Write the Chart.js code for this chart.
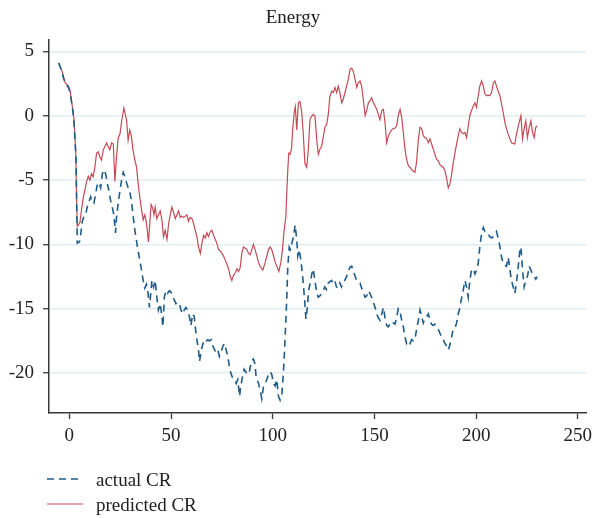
<!DOCTYPE html>
<html>
<head>
<meta charset="utf-8">
<script src="https://cdn.jsdelivr.net/npm/chart.js@4.4.1/dist/chart.umd.min.js"></script>
<style>
  html, body { margin: 0; padding: 0; background: #fff; }
  #wrap { position: relative; width: 595px; height: 518px; }
  #c { position: absolute; left: 0; top: 0; }
  #legend { position: absolute; left: 0; top: 462px; pointer-events: none; }
</style>
</head>
<body>
<div id="wrap">
  <canvas id="c" width="595" height="518"></canvas>
  <svg id="legend" width="300" height="56" xmlns="http://www.w3.org/2000/svg"></svg>
</div>
<script>
// Energy: actual vs predicted CR over time
const chartTitle = 'Energy';
const seriesNames = ['actual CR', 'predicted CR'];
const xTicks = [0, 50, 100, 150, 200, 250];
const yTicks = [-20, -15, -10, -5, 0, 5];

const tActual = [
  -5.2, -3.6, -2.8, -2.0, -0.4, 0.4, 1.7, 2.3, 3.3, 3.6, 3.9, 5.0, 5.6, 6.4, 7.2, 8.0, 8.8, 9.8,
  10.5, 11.3, 12.1, 12.9, 13.8, 14.6, 15.4, 16.2, 17.1, 17.9, 18.7, 19.5, 20.3, 21.1, 21.9, 22.7,
  23.2, 24.0, 24.9, 25.7, 26.5, 27.3, 28.1, 28.9, 29.7, 30.5, 31.3, 32.2, 33.0, 33.8, 34.6, 35.5,
  36.3, 37.1, 37.9, 38.7, 39.4, 40.6, 41.4, 42.2, 43.0, 43.8, 44.7, 45.5, 46.0, 46.7, 47.5, 48.3,
  49.2, 50.0, 50.8, 51.6, 52.4, 53.2, 54.1, 54.9, 55.7, 56.5, 57.3, 58.2, 59.0, 59.8, 60.6, 61.4,
  61.9, 62.7, 63.5, 64.0, 64.9, 65.7, 66.5, 67.3, 68.1, 68.9, 69.7, 70.6, 71.4, 72.2, 73.0, 73.8,
  74.6, 75.5, 76.3, 77.1, 77.9, 78.7, 79.6, 80.4, 81.2, 82.0, 82.8, 83.7, 84.3, 85.1, 85.9, 86.7,
  87.6, 88.4, 89.2, 89.9, 90.5, 91.3, 91.8, 93.0, 93.8, 94.6, 95.5, 96.3, 97.1, 97.9, 98.7, 99.5,
  100.4, 101.2, 102.0, 102.8, 103.6, 104.5, 105.3, 105.8, 106.4, 106.9, 107.4, 108.1, 108.7, 109.4,
  110.2, 111.0, 111.8, 112.3, 113.0, 113.8, 114.3, 115.0, 115.8, 116.3, 117.0, 117.6, 118.4, 119.2,
  119.9, 120.7, 121.5, 122.3, 123.2, 124.0, 124.8, 125.6, 126.4, 127.3, 128.1, 128.9, 129.7, 130.5,
  131.3, 132.2, 133.0, 133.8, 134.6, 135.4, 136.3, 137.1, 137.9, 138.8, 139.6, 140.5, 141.3, 142.1,
  142.9, 143.7, 144.5, 145.4, 146.2, 147.0, 147.8, 148.6, 149.5, 150.3, 151.1, 151.9, 152.7, 153.6,
  154.4, 155.2, 156.0, 156.8, 157.6, 158.5, 159.3, 160.1, 160.9, 161.7, 162.6, 163.4, 164.2, 165.0,
  165.8, 166.7, 167.5, 168.3, 169.1, 169.9, 170.7, 171.6, 172.4, 173.2, 174.0, 174.8, 175.7, 176.5,
  177.3, 178.1, 178.9, 179.7, 180.6, 181.4, 182.2, 183.0, 183.8, 184.7, 185.5, 186.3, 187.1, 187.9,
  188.7, 189.6, 190.4, 191.2, 192.0, 192.8, 193.6, 194.5, 195.3, 196.1, 196.9, 197.7, 198.6, 199.4,
  200.2, 201.0, 201.8, 202.7, 203.5, 204.3, 205.1, 205.9, 206.7, 207.6, 208.4, 209.2, 210.0, 210.8,
  211.7, 212.5, 213.3, 214.1, 214.9, 215.8, 216.6, 217.4, 218.2, 219.0, 219.8, 220.7, 221.5, 222.0,
  222.8, 223.6, 224.4, 225.2, 226.1, 226.9, 227.7, 228.5, 229.3, 230.0
];
const actualCR = [
  4.1, 3.4, 2.9, 2.5, 2.2, 1.8, 0.4, -0.55, -3.4, -6.8, -9.9, -9.8, -9.2, -8.2, -7.8, -7.7, -7.1, -6.6,
  -6.3, -6.7, -6.8, -6.1, -5.3, -5.2, -5.6, -4.55, -4.2, -4.55, -5.3, -5.85, -6.6, -7.1, -7.7, -9.1,
  -7.9, -6.8, -5.8, -5.0, -4.4, -4.75, -5.2, -5.6, -5.85, -6.6, -7.7, -8.9, -9.7, -10.5, -11.2, -12.0,
  -12.8, -13.4, -13.1, -13.8, -14.9, -12.8, -13.3, -12.8, -14.1, -15.1, -14.6, -15.6, -16.4, -14.1, -13.6, -13.8,
  -13.6, -13.7, -14.1, -14.3, -14.6, -14.5, -14.6, -15.1, -15.4, -15.1, -14.9, -15.1, -15.6, -16.3, -15.4, -15.6,
  -16.4, -17.4, -18.2, -19.1, -18.2, -17.7, -17.4, -17.5, -17.4, -17.5, -17.4, -17.9, -18.2, -18.4, -18.2, -18.7,
  -18.4, -17.9, -17.7, -18.2, -18.7, -19.5, -20.1, -20.4, -20.5, -20.8, -20.5, -21.8, -21.0, -20.3, -19.7, -19.9,
  -20.1, -20.0, -19.3, -19.0, -18.9, -19.3, -20.3, -20.8, -21.3, -22.0, -21.0, -20.8, -20.5, -20.1, -19.9, -20.1,
  -20.8, -21.0, -20.5, -21.8, -22.1, -21.6, -19.8, -18.2, -16.1, -14.1, -11.7, -10.2, -10.4, -9.9,
  -9.4, -8.5, -9.6, -10.9, -10.4, -11.2, -11.9, -13.0, -14.6, -15.8, -14.9, -13.6, -13.0, -12.3,
  -11.9, -12.8, -13.6, -14.1, -14.0, -13.8, -13.6, -13.3, -13.5, -13.0, -12.9, -12.8, -13.0, -12.8,
  -13.3, -13.4, -13.0, -13.3, -13.0, -12.8, -12.5, -12.1, -11.8, -11.7, -12.0, -12.5, -12.8, -12.9,
  -13.0, -13.4, -13.7, -14.1, -14.0, -13.6, -13.8, -14.1, -14.5, -14.9, -15.4, -15.7, -15.9, -15.4,
  -14.9, -15.7, -16.3, -16.4, -16.2, -16.3, -16.1, -16.2, -15.7, -15.0, -15.2, -15.9, -16.4, -17.2,
  -17.7, -17.5, -17.7, -17.4, -17.5, -17.4, -16.6, -15.9, -15.1, -15.6, -16.1, -15.7, -15.6, -15.4,
  -15.9, -16.2, -16.3, -16.2, -16.4, -16.6, -16.9, -17.2, -17.4, -17.7, -17.9, -18.2, -17.8, -17.2,
  -16.6, -16.5, -16.1, -15.4, -14.9, -14.2, -13.6, -12.8, -13.3, -14.1, -12.8, -12.0, -11.9, -12.3,
  -12.0, -11.5, -10.2, -9.1, -8.7, -9.0, -9.0, -9.2, -9.4, -9.5, -9.4, -9.2, -9.0, -9.5,
  -10.2, -11.0, -11.5, -11.6, -11.7, -11.0, -12.0, -12.8, -13.3, -13.8, -13.0, -11.7, -10.4, -10.2,
  -12.0, -13.3, -12.8, -12.5, -11.7, -12.0, -12.3, -12.5, -12.7, -12.5
];

const tPredicted = [
  -5.2, -3.6, -2.0, -0.4, 0.4, 1.7, 2.3, 3.1, 3.6, 3.9, 5.2, 6.0, 6.9, 7.7, 8.5, 9.3, 10.1, 10.9,
  11.7, 12.6, 13.4, 14.2, 15.0, 15.8, 16.7, 17.5, 18.3, 19.1, 19.9, 20.8, 21.6, 22.4, 23.2, 24.0,
  24.9, 25.7, 26.8, 28.1, 28.9, 29.7, 30.5, 31.3, 32.2, 33.0, 33.8, 34.6, 35.5, 36.3, 37.1, 37.9,
  38.9, 40.2, 41.0, 41.6, 42.2, 43.0, 43.8, 44.7, 45.5, 46.3, 47.1, 48.0, 48.8, 49.6, 50.4, 51.2,
  52.1, 52.9, 53.7, 54.5, 55.3, 56.2, 57.0, 57.8, 58.6, 59.4, 60.3, 61.1, 61.9, 62.7, 63.5, 64.4,
  65.2, 66.0, 66.8, 67.6, 68.4, 69.3, 70.1, 70.9, 71.7, 72.5, 73.4, 74.2, 75.0, 75.8, 76.6, 77.4,
  78.3, 79.1, 79.9, 80.7, 81.6, 82.4, 83.2, 84.0, 84.8, 85.6, 86.5, 87.3, 88.1, 88.9, 89.7, 90.5,
  91.3, 92.2, 93.0, 93.8, 95.1, 96.3, 97.1, 97.9, 98.7, 99.5, 100.4, 101.2, 102.0, 103.0, 104.0,
  104.8, 105.6, 106.4, 106.9, 107.4, 107.9, 108.5, 109.2, 109.8, 110.5, 111.1, 111.8, 112.6, 113.4,
  114.2, 115.0, 115.8, 116.7, 117.5, 118.3, 119.1, 119.9, 120.8, 121.6, 122.4, 123.2, 124.0, 124.9,
  125.7, 126.5, 127.3, 128.1, 129.0, 129.8, 130.6, 131.4, 132.2, 133.0, 133.9, 134.7, 135.5, 136.3,
  137.1, 138.0, 138.8, 139.6, 140.5, 141.3, 142.1, 142.9, 143.7, 144.5, 145.4, 146.2, 147.0, 147.8,
  148.6, 149.5, 150.3, 151.1, 151.9, 152.7, 153.6, 154.4, 155.2, 156.0, 156.8, 157.6, 158.5, 159.3,
  160.1, 160.9, 161.7, 162.6, 163.4, 164.2, 165.0, 165.8, 166.7, 167.5, 168.3, 169.1, 169.9, 170.7,
  171.6, 172.4, 173.2, 174.0, 174.8, 175.7, 176.5, 177.3, 178.1, 178.9, 179.7, 180.6, 181.4, 182.2,
  183.0, 183.8, 184.7, 185.5, 186.3, 187.1, 187.9, 188.7, 189.6, 190.4, 191.2, 192.0, 192.8, 193.6,
  194.5, 195.3, 196.1, 196.9, 197.7, 198.6, 199.4, 200.2, 201.0, 201.8, 202.7, 203.5, 204.3, 205.1,
  205.9, 206.7, 207.6, 208.4, 209.2, 210.0, 210.8, 211.7, 212.5, 213.3, 214.1, 214.9, 215.8, 216.6,
  217.4, 218.2, 219.0, 219.8, 220.7, 221.5, 222.0, 222.8, 223.6, 224.4, 225.2, 226.1, 226.9, 227.7,
  228.5, 229.3, 230.0
];
const predictedCR = [
  4.1, 3.45, 2.55, 2.3, 1.9, 0.47, -0.3, -2.6, -6.8, -8.6, -8.3, -7.3, -6.3, -5.75, -5.1, -4.7, -5.0, -4.5,
  -4.75, -3.95, -2.9, -2.8, -3.2, -3.45, -2.65, -2.4, -2.1, -2.4, -2.65, -2.1, -2.2, -5.1, -3.2, -1.75,
  -1.4, -0.45, 0.6, -0.3, -1.9, -1.1, -1.6, -2.65, -3.45, -3.95, -5.25, -6.3, -7.3, -8.1, -7.7, -8.3,
  -9.8, -6.9, -7.2, -7.7, -7.1, -8.0, -7.7, -7.4, -8.1, -9.4, -8.9, -9.6, -8.4, -7.7, -7.1, -7.5,
  -8.0, -7.7, -7.4, -7.9, -7.8, -7.9, -7.8, -7.7, -8.2, -7.9, -8.0, -8.4, -8.9, -9.4, -10.2, -10.7,
  -9.9, -9.3, -9.5, -9.1, -9.4, -9.0, -8.9, -9.3, -9.6, -9.9, -10.4, -10.5, -10.7, -10.9, -11.2, -11.5,
  -11.9, -12.5, -12.8, -12.4, -12.2, -11.9, -12.1, -11.8, -10.7, -10.2, -10.3, -10.4, -10.7, -10.8, -10.4, -10.0,
  -10.4, -10.9, -11.4, -11.7, -12.0, -11.4, -10.9, -10.4, -10.2, -10.4, -10.9, -11.4, -11.7, -12.1, -11.4,
  -10.4, -8.9, -7.9, -6.0, -4.2, -2.9, -3.0, -2.6, -1.1, 0.2, 0.7, -1.1, 1.0, 1.1,
  0.35, -1.4, -3.7, -4.0, -2.6, -0.3, -0.05, 0.1, -0.05, -1.85, -3.0, -2.6, -2.4, -1.6,
  -0.85, -0.7, 0.1, 1.5, 1.9, 1.8, 2.2, 1.8, 2.3, 1.8, 1.0, 1.3, 1.8, 2.3,
  2.8, 3.6, 3.7, 3.45, 2.8, 2.2, 2.55, 2.7, 2.3, 1.3, 0.0, 0.4, 1.0, 1.15,
  1.4, 1.0, 0.75, 0.5, 0.1, -0.3, 0.4, 0.5, -0.55, -2.1, -1.6, -1.3, -1.1, -1.0,
  -0.95, -0.8, 0.0, 0.5, -0.15, -1.3, -2.6, -3.4, -3.9, -4.0, -4.2, -4.3, -4.4, -3.6,
  -1.8, -0.9, -1.0, -1.55, -1.7, -1.8, -2.1, -1.8, -2.2, -2.6, -3.0, -3.4, -3.5, -3.8,
  -3.9, -4.0, -4.3, -4.9, -5.6, -5.3, -4.6, -3.7, -2.85, -2.2, -1.55, -1.0, -1.3, -1.4,
  -1.3, -1.7, -0.8, 0.0, 0.4, 0.75, 1.0, 0.65, 1.55, 2.3, 2.7, 2.3, 1.7, 1.55,
  1.6, 1.55, 1.8, 2.55, 2.7, 2.3, 1.9, 1.55, 0.9, 0.25, -0.5, -1.0, -1.45, -1.8,
  -2.1, -2.15, -2.2, -1.45, -0.8, -0.3, 0.0, -1.8, -1.0, -0.4, -1.7, -0.9, -0.4, -1.3,
  -1.7, -0.9, -0.8
];

const FONT = '"Liberation Serif", "Times New Roman", serif';
const INK = '#222222';
const AXIS = '#3a3a3a';
const GRID = '#e2eef2';
const BLUE = '#1f5c8a';
const RED = '#c44a55';
const DASH = [7, 5];

const toPoints = (xs, ys) => xs.map((x, i) => ({ x: x, y: ys[i] }));

const datasets = [
  {
    label: seriesNames[0],
    data: toPoints(tActual, actualCR),
    borderColor: BLUE,
    borderWidth: 1.6,
    borderDash: DASH,
    pointRadius: 0,
    fill: false,
    tension: 0
  },
  {
    label: seriesNames[1],
    data: toPoints(tPredicted, predictedCR),
    borderColor: RED,
    borderWidth: 1.2,
    pointRadius: 0,
    fill: false,
    tension: 0
  }
];

const fixedTicks = list => scale => { scale.ticks = list.map(v => ({ value: v })); };

new Chart(document.getElementById('c'), {
  type: 'line',
  data: { datasets: datasets },
  options: {
    responsive: false,
    animation: false,
    devicePixelRatio: 1,
    layout: { padding: { left: 0, right: 9, top: 0, bottom: 0 } },
    plugins: {
      legend: { display: false },
      tooltip: { enabled: false },
      title: {
        display: true,
        text: chartTitle,
        color: INK,
        font: { family: FONT, size: 19, weight: 'normal', lineHeight: 1.2 },
        padding: { top: 7, bottom: 10 }
      }
    },
    scales: {
      x: {
        type: 'linear',
        min: -10,
        max: 254,
        afterBuildTicks: fixedTicks(xTicks),
        afterFit: s => { s.height = 105; s.paddingLeft = 0; s.paddingRight = 0; },
        grid: { display: true, drawOnChartArea: false, drawTicks: true, tickLength: 6, tickColor: AXIS, tickWidth: 1.3 },
        border: { display: true, color: AXIS, width: 1.5 },
        ticks: { color: INK, font: { family: FONT, size: 19 }, padding: 6, maxRotation: 0, autoSkip: false }
      },
      y: {
        type: 'linear',
        min: -23.1,
        max: 5.9,
        afterBuildTicks: fixedTicks(yTicks),
        afterFit: s => { s.width = 49; s.paddingTop = 0; s.paddingBottom = 0; },
        grid: { color: GRID, lineWidth: 1.5, drawTicks: true, tickLength: 6, tickColor: AXIS, tickWidth: 1.3 },
        border: { display: true, color: AXIS, width: 1.5 },
        ticks: { color: INK, font: { family: FONT, size: 19 }, padding: 9, autoSkip: false }
      }
    }
  }
});

// Legend below the plot: one row per series, line sample followed by its name
(function drawLegend() {
  const svgNS = 'http://www.w3.org/2000/svg';
  const svg = document.getElementById('legend');
  datasets.forEach((ds, i) => {
    const cy = 17 + i * 25;
    const line = document.createElementNS(svgNS, 'line');
    line.setAttribute('x1', 47);
    line.setAttribute('x2', 83);
    line.setAttribute('y1', cy);
    line.setAttribute('y2', cy);
    line.setAttribute('stroke', ds.borderColor);
    line.setAttribute('stroke-width', ds.borderWidth);
    if (ds.borderDash) line.setAttribute('stroke-dasharray', ds.borderDash.join(' '));
    svg.appendChild(line);
    const text = document.createElementNS(svgNS, 'text');
    text.setAttribute('x', 96);
    text.setAttribute('y', cy + 7);
    text.setAttribute('fill', INK);
    text.setAttribute('font-family', FONT);
    text.setAttribute('font-size', 19);
    text.textContent = ds.label;
    svg.appendChild(text);
  });
})();
</script>
</body>
</html>
